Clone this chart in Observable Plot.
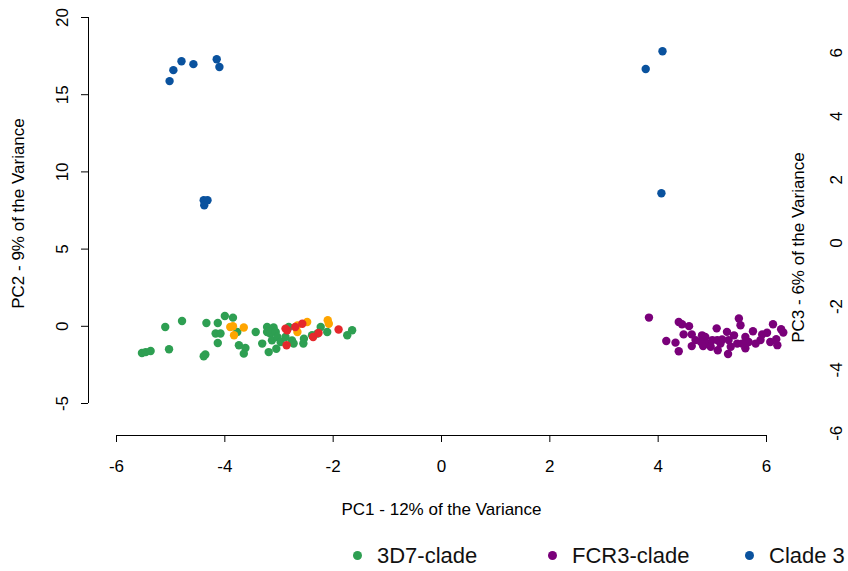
<!DOCTYPE html>
<html>
<head>
<meta charset="utf-8">
<script src="https://cdn.jsdelivr.net/npm/d3@7"></script>
<script src="https://cdn.jsdelivr.net/npm/@observablehq/plot@0.6"></script>
<style>
  html, body { margin: 0; padding: 0; background: #fff; }
  #chart { width: 848px; }
  .legend { position: relative; width: 848px; height: 41px; font-family: "Liberation Sans", Arial, sans-serif; font-size: 22px; color: #111; }
  .legend .item { position: absolute; top: 5px; height: 41px; display: flex; align-items: center; }
  .legend .dot { width: 9px; height: 9px; border-radius: 50%; margin-right: 15px; }
</style>
</head>
<body>
<div id="chart"></div>
<script>
// Axis ticks
const pc1Ticks = [-6, -4, -2, 0, 2, 4, 6];
const pc2Ticks = [-5, 0, 5, 10, 15, 20];
const pc3Ticks = [-6, -4, -2, 0, 2, 4, 6];

// Legend entries
const legendLabels = ["3D7-clade", "FCR3-clade", "Clade 3"];
const legendColors = ["#2e9f52", "#7a007a", "#0a529e"];

// PC1 / PC2 scores (left axis)
const clade3D7 = [
  [-5.53, -1.73], [-5.46, -1.67], [-5.37, -1.60], [-5.10, -0.05], [-5.03, -1.49],
  [-4.79, 0.34], [-4.34, 0.21], [-4.36, -1.83], [-4.39, -1.94], [-4.13, 0.21],
  [-4.17, -0.47], [-4.08, -0.47], [-4.13, -1.08], [-4.00, 0.67], [-3.85, 0.56],
  [-3.77, -0.37], [-3.74, -1.23], [-3.62, -1.41], [-3.65, -1.77], [-3.43, -0.37],
  [-3.22, -0.05], [-3.10, -0.08], [-3.22, -0.37], [-3.16, -0.47], [-3.06, -0.37],
  [-3.31, -1.12], [-3.19, -1.67], [-3.05, -1.45], [-3.13, -0.91], [-3.03, -0.69],
  [-2.97, -1.02], [-2.88, -0.69], [-2.76, -0.91], [-2.73, -1.12], [-2.82, -0.05],
  [-2.55, -1.12], [-2.54, -0.80], [-2.39, -0.58], [-2.29, -0.47], [-2.23, -0.05],
  [-2.11, -0.37], [-1.74, -0.58], [-1.65, -0.26]
];
const orangeGroup = [
  [-3.90, -0.05], [-3.85, 0.00], [-3.65, -0.08], [-3.83, -0.58],
  [-2.66, 0.06], [-2.48, 0.28], [-2.66, -0.37], [-2.10, 0.39], [-2.08, 0.17]
];
const redGroup = [
  [-2.88, -0.15], [-2.85, -0.26], [-2.70, -0.05], [-2.57, 0.17],
  [-2.86, -1.23], [-2.37, -0.69], [-2.27, -0.43], [-1.90, -0.21]
];
const clade3Left = [
  [-5.02, 15.88], [-4.95, 16.59], [-4.80, 17.17], [-4.58, 16.98], [-4.15, 17.30],
  [-4.10, 16.79], [-4.39, 8.17], [-4.32, 8.17], [-4.38, 7.84]
];

// PC1 / PC3 scores (right axis)
const fcr3 = [
  [3.83, -2.35], [4.38, -2.49], [4.44, -2.56], [4.57, -2.62], [4.47, -2.88],
  [4.62, -2.88], [4.15, -3.09], [4.32, -3.14], [4.38, -3.41], [4.62, -3.25],
  [4.81, -2.91], [4.87, -2.96], [4.79, -3.12], [4.90, -3.17], [4.83, -3.25],
  [5.08, -2.69], [5.10, -3.38], [5.00, -3.06], [5.09, -3.06], [5.18, -3.04],
  [5.27, -2.80], [5.30, -3.06], [5.29, -3.50], [5.40, -2.91], [5.46, -3.17],
  [5.52, -2.59], [5.49, -2.38], [5.61, -2.96], [5.61, -3.32], [5.67, -3.12],
  [5.75, -2.78], [5.80, -3.17], [5.92, -2.88], [6.01, -2.83], [6.12, -2.56],
  [6.27, -2.72], [6.31, -2.82], [6.07, -3.12], [6.18, -3.03], [6.20, -3.22],
  [5.15, -3.17], [4.97, -3.27], [5.34, -3.27], [5.55, -3.17], [4.69, -3.06],
  [5.89, -3.06]
];
const clade3Right = [[3.77, 5.49], [4.08, 6.05], [4.06, 1.57]];

// The PC3 axis shares the plotting area: map PC3 values onto the PC2 scale
const pc3ToPc2 = d3.scaleLinear().domain([-6, 6]).range([-6.93, 17.71]);

const rows = [];
const add = (arr, group, fromPc3) => arr.forEach(([x, y]) =>
  rows.push({pc1: x, pc2: fromPc3 ? pc3ToPc2(y) : y, group}));
add(clade3D7, "3D7-clade", false);
add(orangeGroup, "orange", false);
add(redGroup, "red", false);
add(clade3Left, "Clade 3", false);
add(fcr3, "FCR3-clade", true);
add(clade3Right, "Clade 3", true);

const colorOf = {
  "3D7-clade": legendColors[0],
  "FCR3-clade": legendColors[1],
  "Clade 3": legendColors[2],
  "orange": "#ffa500",
  "red": "#e5282c"
};

const fmt = d => String(d);
const font = "Liberation Sans, Arial, sans-serif";
const rotated = {rotate: -90, textAnchor: "middle", lineAnchor: "middle", fontSize: 17};

const chart = Plot.plot({
  width: 848,
  height: 530,
  marginTop: 17,
  marginLeft: 88,
  marginRight: 54,
  marginBottom: 95,
  x: {domain: [-6, 6], insetLeft: 28, insetRight: 28},
  y: {domain: [-5, 20], insetBottom: 32},
  style: {fontFamily: font, fontSize: "17px", color: "#000", background: "#fff"},
  marks: [
    // axis lines (R-style, spanning first to last tick)
    Plot.ruleY([pc2Ticks[0]], {x1: pc1Ticks[0], x2: pc1Ticks[pc1Ticks.length - 1], dy: 32, stroke: "#000"}),
    Plot.ruleX([pc1Ticks[0]], {y1: pc2Ticks[0], y2: pc2Ticks[pc2Ticks.length - 1], dx: -28, stroke: "#000"}),
    Plot.axisX({ticks: pc1Ticks, tickSize: 7, tickPadding: 17, tickFormat: fmt, fontSize: 17, label: null, stroke: "#000"}),
    Plot.axisY({ticks: pc2Ticks, tickSize: 7, tickFormat: () => "", label: null, stroke: "#000"}),
    Plot.text(pc2Ticks, {y: d => d, text: fmt, frameAnchor: "left", dx: -26, ...rotated}),
    Plot.text(pc3Ticks, {y: d => pc3ToPc2(d), text: fmt, frameAnchor: "right", dx: 42, ...rotated}),
    // axis titles
    Plot.text(["PC1 - 12% of the Variance"], {text: d => d, frameAnchor: "bottom", dy: 74, lineAnchor: "middle", fontSize: 17}),
    Plot.text(["PC2 - 9% of the Variance"], {text: d => d, frameAnchor: "left", dx: -70, dy: -13, ...rotated}),
    Plot.text(["PC3 - 6% of the Variance"], {text: d => d, frameAnchor: "right", dx: 4, dy: 21, ...rotated}),
    // points
    Plot.dot(rows, {x: "pc1", y: "pc2", r: 4.2, fill: d => colorOf[d.group], stroke: null})
  ]
});
document.getElementById("chart").appendChild(chart);

// Legend below the plot
const legend = d3.select("body").append("div").attr("class", "legend");
const legendLeft = [353, 548, 745];
legendLabels.forEach((label, i) => {
  const item = legend.append("div").attr("class", "item").style("left", legendLeft[i] + "px");
  item.append("span").attr("class", "dot").style("background", legendColors[i]);
  item.append("span").text(label);
});
</script>
</body>
</html>
